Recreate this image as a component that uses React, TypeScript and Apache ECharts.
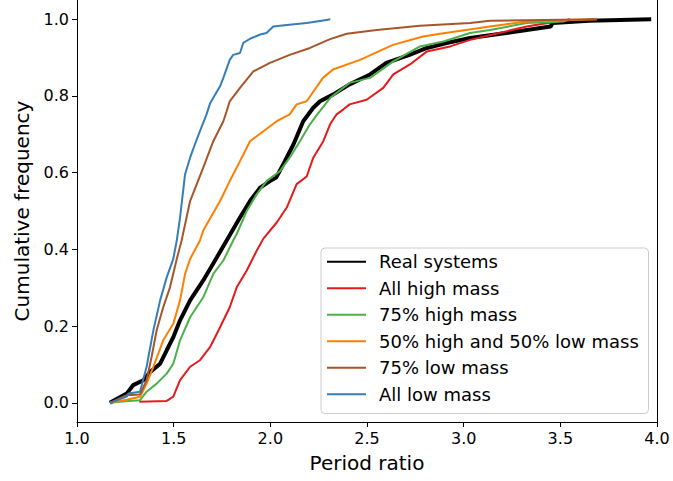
import React, { useEffect, useRef } from "react";
import * as echarts from "echarts";

const seriesNames = [
  "Real systems",
  "All high mass",
  "75% high mass",
  "50% high and 50% low mass",
  "75% low mass",
  "All low mass",
];
const seriesColors = ["#000000", "#e41a1c", "#4daf4a", "#ff7f00", "#a65628", "#377eb8"];
const seriesWidths = [4, 2, 2, 2, 2, 2];

const realX = [1.17, 1.257, 1.29, 1.343, 1.378, 1.43, 1.464, 1.498, 1.533, 1.585, 1.653, 1.723, 1.774, 1.843, 1.895, 1.947, 1.998, 2.03, 2.067, 2.12, 2.17, 2.222, 2.257, 2.326, 2.41, 2.516, 2.6, 2.72, 2.81, 2.912, 3.033, 3.22, 3.45, 3.46, 3.65, 3.97];
const realY = [0, 0.024, 0.046, 0.059, 0.08, 0.102, 0.137, 0.171, 0.215, 0.267, 0.319, 0.379, 0.423, 0.483, 0.526, 0.561, 0.578, 0.587, 0.622, 0.674, 0.734, 0.769, 0.786, 0.804, 0.83, 0.856, 0.886, 0.907, 0.925, 0.938, 0.951, 0.964, 0.981, 0.99, 0.996, 1.0];

const highX = [1.322, 1.464, 1.498, 1.533, 1.585, 1.636, 1.688, 1.74, 1.79, 1.826, 1.878, 1.93, 1.964, 2.033, 2.085, 2.136, 2.188, 2.222, 2.274, 2.309, 2.343, 2.378, 2.41, 2.498, 2.584, 2.636, 2.722, 2.81, 2.93, 3.033, 3.15, 3.326, 3.395, 3.516, 3.55];
const highY = [0.003, 0.005, 0.016, 0.059, 0.094, 0.111, 0.145, 0.197, 0.249, 0.301, 0.345, 0.397, 0.428, 0.47, 0.509, 0.57, 0.59, 0.639, 0.682, 0.726, 0.752, 0.765, 0.778, 0.79, 0.821, 0.856, 0.882, 0.916, 0.929, 0.946, 0.96, 0.981, 0.987, 0.996, 1.0];

const high75X = [1.17, 1.25, 1.326, 1.36, 1.412, 1.464, 1.498, 1.533, 1.585, 1.653, 1.705, 1.757, 1.808, 1.826, 1.878, 1.93, 1.98, 2.05, 2.1, 2.153, 2.205, 2.24, 2.31, 2.41, 2.516, 2.636, 2.774, 2.895, 3.033, 3.136, 3.326, 3.516, 3.55];
const high75Y = [0, 0.004, 0.007, 0.029, 0.05, 0.076, 0.102, 0.163, 0.223, 0.275, 0.336, 0.371, 0.423, 0.44, 0.5, 0.544, 0.578, 0.604, 0.639, 0.682, 0.726, 0.75, 0.795, 0.834, 0.847, 0.89, 0.929, 0.942, 0.964, 0.972, 0.99, 0.994, 1.0];

const halfX = [1.17, 1.257, 1.326, 1.36, 1.395, 1.446, 1.498, 1.533, 1.559, 1.585, 1.636, 1.653, 1.74, 1.79, 1.843, 1.895, 1.964, 2.033, 2.1, 2.136, 2.188, 2.272, 2.324, 2.464, 2.634, 2.79, 2.878, 3.136, 3.326, 3.69];
const halfY = [0, 0.008, 0.016, 0.05, 0.094, 0.163, 0.206, 0.267, 0.336, 0.375, 0.423, 0.449, 0.526, 0.578, 0.63, 0.682, 0.708, 0.734, 0.752, 0.778, 0.786, 0.847, 0.869, 0.894, 0.933, 0.955, 0.962, 0.981, 0.994, 1.0];

const low75X = [1.17, 1.257, 1.326, 1.36, 1.386, 1.412, 1.446, 1.481, 1.516, 1.541, 1.585, 1.653, 1.705, 1.757, 1.774, 1.79, 1.843, 1.912, 1.998, 2.1, 2.205, 2.309, 2.395, 2.55, 2.774, 3.033, 3.136, 3.69];
const low75Y = [0, 0.02, 0.022, 0.059, 0.12, 0.189, 0.249, 0.301, 0.375, 0.423, 0.526, 0.613, 0.682, 0.734, 0.76, 0.786, 0.821, 0.864, 0.886, 0.907, 0.925, 0.948, 0.962, 0.972, 0.983, 0.99, 0.996, 1.0];

const lowX = [1.17, 1.257, 1.266, 1.326, 1.36, 1.395, 1.43, 1.464, 1.498, 1.516, 1.533, 1.559, 1.585, 1.61, 1.636, 1.67, 1.688, 1.705, 1.74, 1.757, 1.79, 1.808, 1.843, 1.86, 1.895, 1.947, 1.98, 2.015, 2.085, 2.188, 2.29, 2.31];
const lowY = [0, 0.016, 0.024, 0.029, 0.094, 0.189, 0.267, 0.327, 0.375, 0.423, 0.483, 0.596, 0.639, 0.674, 0.708, 0.752, 0.78, 0.795, 0.825, 0.847, 0.894, 0.907, 0.912, 0.938, 0.949, 0.96, 0.964, 0.981, 0.985, 0.99, 0.998, 1.0];

const xTicks = [1.0, 1.5, 2.0, 2.5, 3.0, 3.5, 4.0];
const yTicks = [0.0, 0.2, 0.4, 0.6, 0.8, 1.0];

const allX = [realX, highX, high75X, halfX, low75X, lowX];
const allY = [realY, highY, high75Y, halfY, low75Y, lowY];

const FONT = "DejaVu Sans";

export default function App() {
  const ref = useRef<HTMLDivElement>(null);
  useEffect(() => {
    if (!ref.current) return;
    const chart = echarts.init(ref.current, null, { renderer: "svg" });
    const series = seriesNames.map((name, i) => ({
      name,
      type: "line",
      data: allX[i].map((x, j) => [x, allY[i][j]]),
      symbol: "none",
      showSymbol: false,
      lineStyle: { color: seriesColors[i], width: seriesWidths[i] },
      itemStyle: { color: seriesColors[i] },
      z: 2 + i,
    }));
    chart.setOption({
      animation: false,
      grid: { left: 77, right: 16, top: -1.5, bottom: 59, containLabel: false },
      xAxis: {
        type: "value",
        min: 1,
        max: 4,
        interval: 0.5,
        name: "Period ratio",
        nameLocation: "middle",
        nameGap: 31,
        nameTextStyle: { fontFamily: FONT, fontSize: 20, color: "#000" },
        axisLine: { onZero: false, lineStyle: { color: "#000", width: 1 } },
        axisTick: { show: true, length: 5, lineStyle: { color: "#000" }, customValues: xTicks },
        axisLabel: {
          fontFamily: FONT,
          fontSize: 16,
          color: "#000",
          margin: 8,
          customValues: xTicks,
          formatter: (v: number) => v.toFixed(1),
        },
        splitLine: { show: false },
      },
      yAxis: [
        {
          type: "value",
          min: -0.05,
          max: 1.05,
          name: "Cumulative frequency",
          nameLocation: "middle",
          nameGap: 45,
          nameTextStyle: { fontFamily: FONT, fontSize: 20, color: "#000" },
          axisLine: { show: true, onZero: false, lineStyle: { color: "#000", width: 1 } },
          axisTick: { show: true, length: 5, lineStyle: { color: "#000" }, customValues: yTicks },
          axisLabel: {
            fontFamily: FONT,
            fontSize: 16,
            color: "#000",
            margin: 8,
            customValues: yTicks,
            formatter: (v: number) => v.toFixed(1),
          },
          splitLine: { show: false },
        },
        {
          type: "value",
          position: "right",
          min: -0.05,
          max: 1.05,
          axisLine: { show: true, onZero: false, lineStyle: { color: "#000", width: 1 } },
          axisTick: { show: false },
          axisLabel: { show: false },
          splitLine: { show: false },
        },
      ],
      legend: {
        orient: "vertical",
        left: 326,
        top: 251.1,
        padding: 0,
        itemGap: 5.3,
        itemWidth: 39,
        itemHeight: 26.5,
        data: seriesNames,
        itemStyle: { opacity: 0 },
        textStyle: { fontFamily: FONT, fontSize: 18, color: "#000", padding: [0, 0, 0, 8] },
        selectedMode: false,
        z: 10,
      },
      graphic: [
        {
          type: "rect",
          left: 320.5,
          top: 247.5,
          shape: { width: 327.5, height: 165.5, r: 4 },
          style: { fill: "rgba(255,255,255,0.8)", stroke: "#cccccc", lineWidth: 1 },
          z: 5,
        },
      ],
      series,
    });
    return () => chart.dispose();
  }, []);
  return (
    <div
      ref={ref}
      style={{ position: "absolute", left: 0, top: 0, width: 673, height: 481, background: "#fff" }}
    />
  );
}
